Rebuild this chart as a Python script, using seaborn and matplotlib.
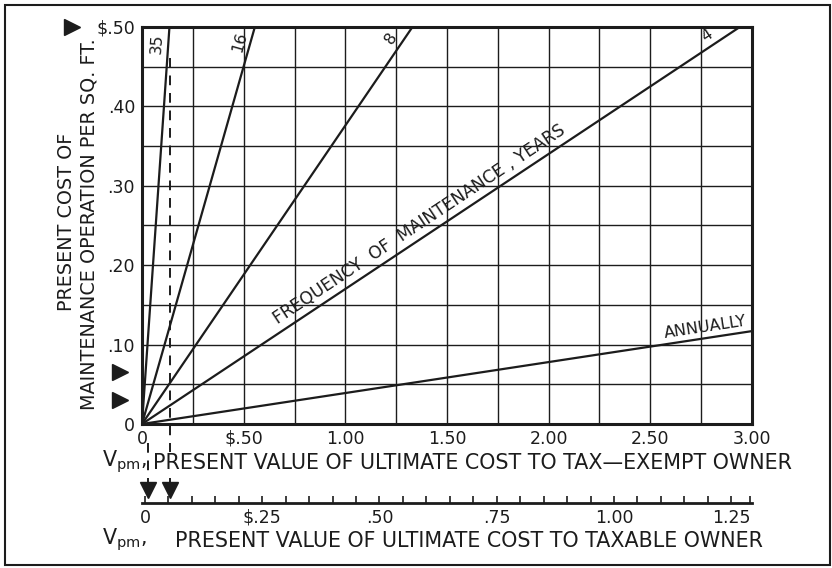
import numpy as np
import pandas as pd
import matplotlib
matplotlib.use("Agg")
import matplotlib.pyplot as plt
import matplotlib.transforms as mtransforms
from matplotlib.patches import Rectangle
import seaborn as sns

# ── Data ──────────────────────────────────────────────────────────────────────
# each frequency line runs from the origin to where it leaves the grid
freq_labels = ["35", "16", "8", "4", "ANNUALLY"]
vpm_end = [0.135, 0.555, 1.33, 2.94, 3.00]      # Vpm, tax-exempt owner ($)
cost_end = [0.50, 0.50, 0.50, 0.50, 0.117]      # present cost per sq. ft. ($)

x_ticks = [0, 0.5, 1.0, 1.5, 2.0, 2.5, 3.0]
x_tick_labels = ["0", "$.50", "1.00", "1.50", "2.00", "2.50", "3.00"]
y_ticks = [0, 0.1, 0.2, 0.3, 0.4, 0.5]
y_tick_labels = ["0", ".10", ".20", ".30", ".40", "$.50"]
taxable_ticks = [0, 0.25, 0.5, 0.75, 1.0, 1.25]
taxable_tick_labels = ["0", "$.25", ".50", ".75", "1.00", "1.25"]

# pointer triangles and the dashed read-off lines
top_mark = 0.50
cost_marks = [0.065, 0.03]
vpm_marks = [0.03, 0.138]
dash_top = 0.461

# ── Style ─────────────────────────────────────────────────────────────────────
sns.set_theme(style="white")
plt.rcParams["font.family"] = ["DejaVu Sans"]
ink = "#1c1c1c"

fig = plt.figure(figsize=(8.32, 5.68), dpi=100)
ax = fig.add_axes([142 / 832, 144 / 568, 610 / 832, 397 / 568])

# ── Frequency lines ───────────────────────────────────────────────────────────
rows = []
for lab, xe, ye in zip(freq_labels, vpm_end, cost_end):
    rows.append({"freq": lab, "vpm": 0.0, "cost": 0.0})
    rows.append({"freq": lab, "vpm": xe, "cost": ye})
lines = pd.DataFrame(rows)

sns.lineplot(data=lines, x="vpm", y="cost", units="freq", estimator=None,
             sort=False, color=ink, lw=1.6, ax=ax, zorder=3)

ax.set_xlim(0, 3.0)
ax.set_ylim(0, 0.5)
ax.set_xlabel("")
ax.set_ylabel("")

ax.set_xticks(x_ticks)
ax.set_xticklabels(x_tick_labels, fontsize=12.5, color=ink)
ax.set_xticks(np.arange(0.25, 3.0, 0.5), minor=True)
ax.set_yticks(y_ticks)
ax.set_yticklabels(y_tick_labels, fontsize=12.5, color=ink)
ax.set_yticks(np.arange(0.05, 0.5, 0.1), minor=True)
ax.tick_params(which="both", length=0)
ax.tick_params(axis="x", pad=4)
ax.tick_params(axis="y", pad=5)
ax.grid(which="both", color=ink, lw=1.0)
for s in ax.spines.values():
    s.set_color(ink)
    s.set_linewidth(2.2)


# ── Labels along the lines ────────────────────────────────────────────────────
def line_label(text, xe, ye, t, size, gap):
    x, y = xe * t, ye * t
    p0 = ax.transData.transform((0, 0))
    p1 = ax.transData.transform((xe, ye))
    ang = np.arctan2(p1[1] - p0[1], p1[0] - p0[0])
    ax.annotate(text, xy=(x, y),
                xytext=(-np.sin(ang) * gap, np.cos(ang) * gap),
                textcoords="offset points", rotation=np.degrees(ang),
                rotation_mode="anchor", ha="center", va="bottom",
                fontsize=size, color=ink, zorder=4)


for lab, xe, ye in zip(freq_labels[:4], vpm_end[:4], cost_end[:4]):
    line_label(lab, xe, ye, 0.955, 11.5, 2.5)
line_label("ANNUALLY", vpm_end[4], cost_end[4], 2.78 / 3.0, 11.5, 2)
line_label("FREQUENCY  OF  MAINTENANCE , YEARS", vpm_end[3], cost_end[3],
           1.40 / 2.94, 12.3, 3)

# ── Pointer triangles and dashed read-off lines ───────────────────────────────
yl = mtransforms.blended_transform_factory(ax.transAxes, ax.transData)
ax.plot([-0.115], [top_mark], marker=">", ms=12, color=ink, ls="none",
        transform=yl, clip_on=False)
ax.plot([-0.036] * len(cost_marks), cost_marks, marker=">", ms=12, color=ink,
        ls="none", transform=yl, clip_on=False)

xl = mtransforms.blended_transform_factory(ax.transData, ax.transAxes)
ax.plot([vpm_marks[0]] * 2, [-0.048, -0.15], color=ink, lw=1.4,
        ls=(0, (5, 4)), transform=xl, clip_on=False)
ax.plot([vpm_marks[1]] * 2, [dash_top / 0.5, -0.15], color=ink, lw=1.4,
        ls=(0, (5, 4)), transform=xl, clip_on=False, zorder=2)
ax.plot(vpm_marks, [-0.166] * len(vpm_marks), marker="v", ms=12, color=ink,
        ls="none", transform=xl, clip_on=False)

# ── Second scale: taxable owner ───────────────────────────────────────────────
ax2 = fig.add_axes([142 / 832, 65 / 568, 610 / 832, 0.0001])
ax2.patch.set_visible(False)
ax2.set_xlim(-3 / 469, 607 / 469)
ax2.set_yticks([])
for side in ["top", "left", "right"]:
    ax2.spines[side].set_visible(False)
ax2.spines["bottom"].set_color(ink)
ax2.spines["bottom"].set_linewidth(2.0)
ax2.set_xticks(taxable_ticks)
ax2.set_xticklabels(taxable_tick_labels, fontsize=12.5, color=ink)
ax2.set_xticks(list(np.arange(0.05, 1.3, 0.05)) + [1.29], minor=True)
ax2.tick_params(which="both", bottom=True, direction="in", length=5,
                width=1.2, color=ink, pad=4)

# ── Axis titles ───────────────────────────────────────────────────────────────
fs = 14.9
fig.text(102 / 832, 1 - 462 / 568, r"V$_{\mathrm{pm}}$,", fontsize=fs,
         ha="left", va="center", color=ink)
fig.text(153 / 832, 1 - 463 / 568,
         "PRESENT VALUE OF ULTIMATE COST TO TAX\u2014EXEMPT OWNER",
         fontsize=fs, ha="left", va="center", color=ink,
         bbox=dict(fc="white", ec="none", pad=1))
fig.text(102 / 832, 1 - 540 / 568, r"V$_{\mathrm{pm}}$,", fontsize=fs,
         ha="left", va="center", color=ink)
fig.text(175 / 832, 1 - 541 / 568,
         "PRESENT VALUE OF ULTIMATE COST TO TAXABLE OWNER",
         fontsize=fs, ha="left", va="center", color=ink)

fig.text(66 / 832, 1 - 222 / 568, "PRESENT COST OF", rotation=90,
         fontsize=13.8, ha="center", va="center", color=ink)
fig.text(89 / 832, 1 - 224 / 568, "MAINTENANCE OPERATION PER SQ. FT.",
         rotation=90, fontsize=13.8, ha="center", va="center", color=ink)

# outer frame
fig.add_artist(Rectangle((5 / 832, 3 / 568), 825 / 832, 560 / 568,
                         transform=fig.transFigure, fill=False, lw=1.5,
                         ec=ink))

fig.savefig("out.png", dpi=100)
